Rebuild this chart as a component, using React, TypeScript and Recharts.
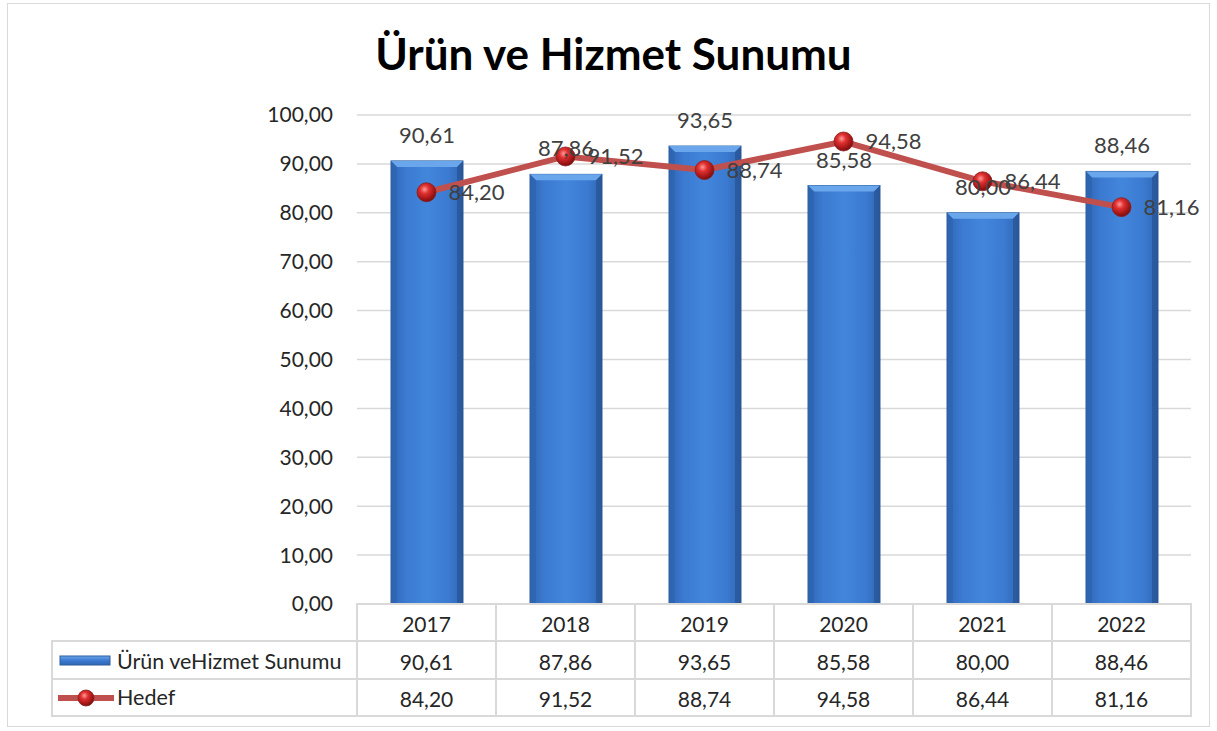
import React from 'react';
import {
  ComposedChart,
  Bar,
  Line,
  XAxis,
  YAxis,
  CartesianGrid,
  LabelList,
} from 'recharts';

const years = ['2017', '2018', '2019', '2020', '2021', '2022'];
const sunum = [90.61, 87.86, 93.65, 85.58, 80.0, 88.46];
const hedef = [84.2, 91.52, 88.74, 94.58, 86.44, 81.16];
const yTicks = [0, 10, 20, 30, 40, 50, 60, 70, 80, 90, 100];

const data = years.map((y, i) => ({ year: y, sunum: sunum[i], hedef: hedef[i] }));

const FONT = 'Lato, "Open Sans", sans-serif';
const fmt = (v: any) => Number(v).toFixed(2).replace('.', ',');

// layout
const W = 1217;
const H = 731;
const PLOT_LEFT = 357;
const PLOT_RIGHT = 1191;
const PLOT_TOP = 115;
const PLOT_BOTTOM = 604;
const BAND = (PLOT_RIGHT - PLOT_LEFT) / years.length;
const ROW1 = 641;
const ROW2 = 679;
const ROW_END = 716;
const GRID = '#d9d9d9';
const TXT = '#262626';

const BarShape = (props: any) => {
  const { x, y, width, height } = props;
  if (height <= 0) return null;
  const b = 6;
  return (
    <g>
      <rect x={x} y={y} width={width} height={height} fill="url(#barGrad)" stroke="#2f5f9e" strokeWidth={1} />
      <polygon
        points={`${x},${y} ${x + width},${y} ${x + width - b},${y + b} ${x + b},${y + b}`}
        fill="#6aa6ec"
      />
      <polygon
        points={`${x},${y} ${x + b},${y + b} ${x + b},${y + height} ${x},${y + height}`}
        fill="#2d63ad"
        opacity={0.6}
      />
      <polygon
        points={`${x + width},${y} ${x + width - b},${y + b} ${x + width - b},${y + height} ${x + width},${y + height}`}
        fill="#264f8c"
        opacity={0.6}
      />
    </g>
  );
};

const Ball = ({ cx, cy, r = 9.5 }: any) => (
  <circle cx={cx} cy={cy} r={r} fill="url(#ballGrad)" stroke="#8a2020" strokeWidth={0.8} />
);

const DotShape = (props: any) => {
  const { cx, cy } = props;
  if (cx == null || cy == null) return null;
  return <Ball cx={cx} cy={cy} />;
};

const TableTick = (props: any) => {
  const { x, payload, index } = props;
  const i = payload.index ?? index;
  const left = x - BAND / 2;
  return (
    <g>
      {i === 0 && (
        <g>
          <rect x={52} y={ROW1} width={PLOT_LEFT - 52} height={ROW_END - ROW1} fill="none" stroke={GRID} strokeWidth={2} />
          <line x1={52} y1={ROW2} x2={PLOT_LEFT} y2={ROW2} stroke={GRID} strokeWidth={2} />
          <rect x={60} y={656} width={50} height={9} fill="url(#legGrad)" stroke="#2f5f9e" strokeWidth={1} />
          <text x={117} y={661} dominantBaseline="central" fontSize={21.5} fill={TXT} fontFamily={FONT}>
            Ürün veHizmet Sunumu
          </text>
          <line x1={58} y1={698} x2={114} y2={698} stroke="#c0504d" strokeWidth={6} />
          <Ball cx={86} cy={698} r={8} />
          <text x={117} y={697} dominantBaseline="central" fontSize={21.5} fill={TXT} fontFamily={FONT}>
            Hedef
          </text>
        </g>
      )}
      <rect x={left} y={PLOT_BOTTOM} width={BAND} height={ROW_END - PLOT_BOTTOM} fill="none" stroke={GRID} strokeWidth={2} />
      <line x1={left} y1={ROW1} x2={left + BAND} y2={ROW1} stroke={GRID} strokeWidth={2} />
      <line x1={left} y1={ROW2} x2={left + BAND} y2={ROW2} stroke={GRID} strokeWidth={2} />
      <text x={x} y={623} textAnchor="middle" dominantBaseline="central" fontSize={21} fill={TXT} fontFamily={FONT}>
        {payload.value}
      </text>
      <text x={x} y={661} textAnchor="middle" dominantBaseline="central" fontSize={21} fill={TXT} fontFamily={FONT}>
        {fmt(sunum[i])}
      </text>
      <text x={x} y={698} textAnchor="middle" dominantBaseline="central" fontSize={21} fill={TXT} fontFamily={FONT}>
        {fmt(hedef[i])}
      </text>
    </g>
  );
};

export default function App() {
  return (
    <div style={{ position: 'absolute', left: 0, top: 0, width: W, height: H, background: '#fff', fontFamily: FONT }}>
      <div
        style={{
          position: 'absolute',
          left: 7,
          top: 3,
          width: 1203,
          height: 724,
          border: '1.5px solid #d9d9d9',
          boxSizing: 'border-box',
        }}
      />
      <div
        style={{
          position: 'absolute',
          left: 0,
          top: 27,
          width: 1227,
          textAlign: 'center',
          fontSize: 44,
          fontWeight: 700,
          color: '#000',
        }}
      >
        Ürün ve Hizmet Sunumu
      </div>
      <div style={{ position: 'absolute', left: 0, top: 0 }}>
        <ComposedChart
          width={W}
          height={H}
          data={data}
          margin={{ top: PLOT_TOP, right: W - PLOT_RIGHT, bottom: 0, left: PLOT_LEFT - 60 }}
        >
          <defs>
            <linearGradient id="barGrad" x1="0" y1="0" x2="1" y2="0">
              <stop offset="0%" stopColor="#2f66b3" />
              <stop offset="20%" stopColor="#3b7ad0" />
              <stop offset="50%" stopColor="#4286dc" />
              <stop offset="80%" stopColor="#3b7ad0" />
              <stop offset="100%" stopColor="#2f66b3" />
            </linearGradient>
            <linearGradient id="legGrad" x1="0" y1="0" x2="0" y2="1">
              <stop offset="0%" stopColor="#6aa6ec" />
              <stop offset="50%" stopColor="#3b7ad0" />
              <stop offset="100%" stopColor="#2f66b3" />
            </linearGradient>
            <radialGradient id="ballGrad" cx="40%" cy="35%" r="65%">
              <stop offset="0%" stopColor="#ff9a9a" />
              <stop offset="35%" stopColor="#e03030" />
              <stop offset="80%" stopColor="#a01515" />
              <stop offset="100%" stopColor="#7a1010" />
            </radialGradient>
          </defs>
          <CartesianGrid vertical={false} stroke={GRID} strokeWidth={1.5} />
          <XAxis
            dataKey="year"
            height={H - PLOT_BOTTOM}
            axisLine={false}
            tickLine={false}
            interval={0}
            tick={<TableTick />}
          />
          <YAxis
            width={60}
            domain={[0, 100]}
            ticks={yTicks}
            interval={0}
            axisLine={false}
            tickLine={false}
            tickMargin={18}
            tickFormatter={fmt}
            tick={{ fontSize: 21, fill: TXT, fontFamily: FONT }}
          />
          <Bar dataKey="sunum" barSize={72} shape={<BarShape />} isAnimationActive={false}>
            <LabelList
              dataKey="sunum"
              position="top"
              offset={18}
              formatter={fmt}
              style={{ fontSize: 22, fill: '#404040', fontFamily: FONT }}
            />
          </Bar>
          <Line
            dataKey="hedef"
            stroke="#c0504d"
            strokeWidth={6}
            dot={<DotShape />}
            activeDot={false}
            isAnimationActive={false}
          >
            <LabelList
              dataKey="hedef"
              position="right"
              offset={22}
              formatter={fmt}
              style={{ fontSize: 22, fill: '#404040', fontFamily: FONT }}
            />
          </Line>
        </ComposedChart>
      </div>
    </div>
  );
}
